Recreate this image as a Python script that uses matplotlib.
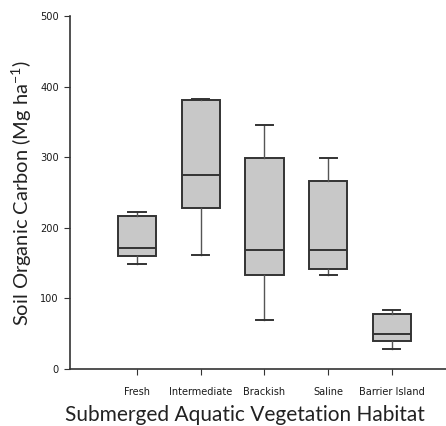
import matplotlib
matplotlib.use('Agg')
import matplotlib.pyplot as plt

plt.rcParams['mathtext.fontset'] = 'custom'
plt.rcParams['mathtext.rm'] = 'Lato'
plt.rcParams['mathtext.it'] = 'Lato:italic'
plt.rcParams['mathtext.default'] = 'rm'

habitats = ['Fresh', 'Intermediate', 'Brackish', 'Saline', 'Barrier Island']
whisker_low = [149, 161, 69, 133, 28]
q1 = [160, 228, 133, 142, 40]
median = [172, 275, 168, 168, 50]
q3 = [217, 381, 299, 266, 78]
whisker_high = [222, 383, 346, 299, 84]
yticks = [0, 100, 200, 300, 400, 500]

stats = []
for i, name in enumerate(habitats):
    stats.append({'label': name, 'whislo': whisker_low[i], 'q1': q1[i],
                  'med': median[i], 'q3': q3[i], 'whishi': whisker_high[i],
                  'fliers': []})

fig = plt.figure(figsize=(4.46, 4.26), dpi=100)
ax = fig.add_axes([0.157, 0.134, 0.843, 0.828])

ax.bxp(stats, positions=range(1, 6), widths=0.6, patch_artist=True,
       showfliers=False,
       boxprops=dict(facecolor='#c8c8c8', edgecolor='#333333', linewidth=1.4),
       medianprops=dict(color='#333333', linewidth=1.4),
       whiskerprops=dict(color='#555555', linewidth=1.0),
       capprops=dict(color='#333333', linewidth=1.4),
       capwidths=0.27)

ax.set_xlim(-0.05, 5.85)
ax.set_ylim(0, 500)
ax.set_yticks(yticks)
ax.spines['top'].set_visible(False)
ax.spines['right'].set_visible(False)
for s in ['left', 'bottom']:
    ax.spines[s].set_color('#333333')
    ax.spines[s].set_linewidth(1.2)

ax.tick_params(axis='both', direction='out', length=4, color='#333333')
ax.tick_params(axis='y', pad=4)
ax.tick_params(axis='x', pad=9)
for lab in ax.get_xticklabels() + ax.get_yticklabels():
    lab.set_family('DejaVu Sans')
    lab.set_stretch('condensed')
    lab.set_fontsize(7.8)
    lab.set_color('#1a1a1a')

ax.set_xlabel('Submerged Aquatic Vegetation Habitat', fontsize=15,
              family='Lato', color='#222222', va='center')
ax.xaxis.set_label_coords(0.465, -0.13)
ax.set_ylabel('Soil Organic Carbon (Mg ha$^{-1}$)', fontsize=14.5,
              family='Lato', color='#222222', va='center')
ax.yaxis.set_label_coords(-0.128, 0.5)

fig.savefig('out.png', dpi=100)
